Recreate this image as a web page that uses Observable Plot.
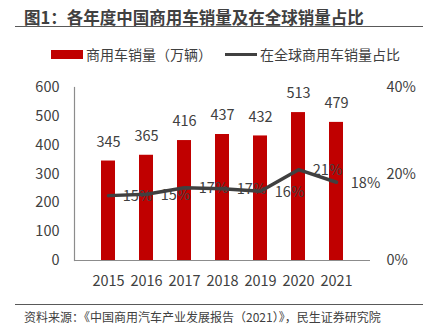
<!DOCTYPE html>
<html><head><meta charset="utf-8">
<script src="https://cdn.jsdelivr.net/npm/d3@7"></script>
<script src="https://cdn.jsdelivr.net/npm/@observablehq/plot@0.6"></script>
<style>
body{margin:0;background:#fff;font-family:"Noto Sans CJK SC","Noto Sans",sans-serif;color:#404040}
#wrap{position:relative;width:427px;height:332px;overflow:hidden}
#chart{position:absolute;left:0;top:0}
.abs{position:absolute;white-space:nowrap}
</style></head>
<body>
<div id="wrap">
<div id="chart"></div>
<div class="abs" id="title" style="left:24px;top:6px;font-size:16.5px;font-weight:bold;line-height:22px;color:#404040">图1：各年度中国商用车销量及在全球销量占比</div>
<div class="abs" style="left:15px;top:26px;width:408px;height:0;border-top:1.3px solid #595959"></div>
<div class="abs" id="legend" style="left:51px;top:44px;font-size:14px;line-height:20px;display:flex;align-items:center"></div>
<div class="abs" style="left:15px;top:304px;width:408px;height:0;border-top:1.3px solid #595959"></div>
<div class="abs" id="source" style="left:24px;top:309px;font-size:12px;line-height:16px;color:#404040"></div>
</div>
<script>
const years = ["2015","2016","2017","2018","2019","2020","2021"];
const sales = [345, 365, 416, 437, 432, 513, 479];
const share = [0.150, 0.153, 0.168, 0.166, 0.160, 0.210, 0.181];
const shareLabels = ["15%","15%","17%","17%","16%","21%","18%"];
const leftTicks = [0, 100, 200, 300, 400, 500, 600];
const rightTicks = [0, 0.2, 0.4];
const seriesNames = ["商用车销量（万辆）", "在全球商用车销量占比"];
const titleText = "图1：各年度中国商用车销量及在全球销量占比";
const sourceText = "资料来源：《中国商用汽车产业发展报告（2021）》，民生证券研究院";

const barColor = "#C00000";
const lineColor = "#404040";
const textColor = "#404040";
const yMax = 600, shareMax = 0.4;
const k = yMax / shareMax;

const rows = years.map((y, i) => ({year: y, sales: sales[i], share: share[i], shareY: share[i] * k, shareLabel: shareLabels[i]}));

const chart = Plot.plot({
  width: 427, height: 332,
  marginLeft: 74, marginRight: 57, marginTop: 87, marginBottom: 72,
  style: {fontFamily: '"Noto Sans CJK SC","Noto Sans",sans-serif', fontSize: "14px", color: textColor, background: "transparent"},
  x: {domain: years, padding: 0.64, label: null},
  y: {domain: [0, yMax], label: null},
  marks: [
    Plot.barY(rows, {x: "year", y: "sales", fill: barColor}),
    Plot.ruleY([0], {stroke: "#8c8c8c", strokeWidth: 1.2}),
    Plot.frame({anchor: "left", stroke: "#8c8c8c", strokeWidth: 1.2}),
    Plot.text(rows, {x: "year", y: "sales", text: d => String(d.sales), dy: -19, fill: textColor, fontSize: 14.5}),
    Plot.line(rows, {x: "year", y: "shareY", stroke: lineColor, strokeWidth: 3.5, strokeLinejoin: "round", strokeLinecap: "round"}),
    Plot.text(rows, {x: "year", y: "shareY", text: "shareLabel", dx: 29, dy: 1, fill: textColor, fontSize: 14.5}),
    Plot.axisX({tickSize: 0, tickPadding: 15, fontSize: 14.5, color: textColor, label: null}),
    Plot.axisY({anchor: "left", ticks: leftTicks, tickSize: 0, tickPadding: 15, fontSize: 14.5, color: textColor, label: null}),
    Plot.axisY({anchor: "right", ticks: rightTicks.map(v => v * k), tickFormat: d => Math.round(d / k * 100) + "%", tickSize: 0, tickPadding: 16, fontSize: 14.5, color: textColor, label: null})
  ]
});
document.getElementById("chart").appendChild(chart);

const legend = document.getElementById("legend");
legend.innerHTML =
  `<span style="display:inline-block;width:32px;height:9px;background:${barColor};margin-right:3px"></span><span>${seriesNames[0]}</span>` +
  `<span style="display:inline-block;width:32px;height:0;border-top:3.5px solid ${lineColor};margin-left:13px;margin-right:3px"></span><span>${seriesNames[1]}</span>`;
document.getElementById("source").textContent = sourceText;
document.getElementById("title").textContent = titleText;
</script>
</body></html>
